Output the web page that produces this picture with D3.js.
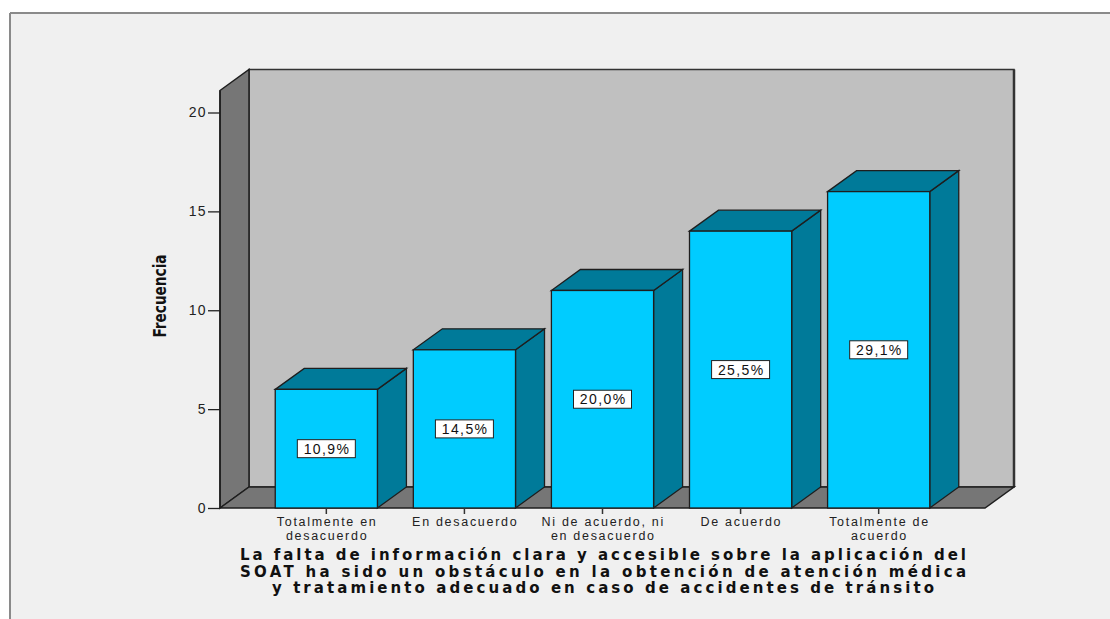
<!DOCTYPE html>
<html>
<head>
<meta charset="utf-8">
<script src="https://cdn.jsdelivr.net/npm/d3@7"></script>
<style>
  html, body { margin: 0; padding: 0; background: #ffffff; }
  svg { display: block; }
</style>
</head>
<body>
<svg id="chart" width="1110" height="619"></svg>
<script>
// Response categories and counts
const categories = [
  "Totalmente en desacuerdo",
  "En desacuerdo",
  "Ni de acuerdo, ni en desacuerdo",
  "De acuerdo",
  "Totalmente de acuerdo"
];
const categoryLines = [
  ["Totalmente en", "desacuerdo"],
  ["En desacuerdo"],
  ["Ni de acuerdo, ni", "en desacuerdo"],
  ["De acuerdo"],
  ["Totalmente de", "acuerdo"]
];
const frequencies = [6, 8, 11, 14, 16];
const yTicks = [0, 5, 10, 15, 20];
const yLabel = "Frecuencia";
const titleLines = [
  "La falta de información clara y accesible sobre la aplicación del",
  "SOAT ha sido un obstáculo en la obtención de atención médica",
  "y tratamiento adecuado en caso de accidentes de tránsito"
];

const svg = d3.select("#chart");
const total = d3.sum(frequencies);
const pct = v => d3.format(".1f")(v / total * 100).replace(".", ",") + "%";
const labelFont = "Liberation Sans, Arial, sans-serif";

// Panel background and frame
svg.append("rect").attr("x", 10).attr("y", 13).attr("width", 1100).attr("height", 606).attr("fill", "#f0f0f0");
svg.append("line").attr("x1", 10).attr("x2", 1110).attr("y1", 13).attr("y2", 13).attr("stroke", "#8a8a8a").attr("stroke-width", 2);
svg.append("line").attr("x1", 10).attr("x2", 10).attr("y1", 13).attr("y2", 619).attr("stroke", "#8a8a8a").attr("stroke-width", 2);

// Scales
const y = d3.scaleLinear().domain([0, 20]).range([508, 112.5]);
const x = d3.scaleBand().domain(categories).range([220, 985]).paddingInner(0.26).paddingOuter(0.4);
const dx = 29, dy = -21;            // depth offset for the 3D effect
const left = 220, right = 985;
const yBase = y(0), yTopWall = y(20) - 22;

const poly = pts => pts.map(p => p.join(",")).join(" ");
const edge = "#1e1e1e";

// Back wall
svg.append("polygon")
  .attr("points", poly([[left + dx, yTopWall + dy], [right + dx, yTopWall + dy], [right + dx, yBase + dy], [left + dx, yBase + dy]]))
  .attr("fill", "#c0c0c0").attr("stroke", "#333").attr("stroke-width", 1.5);
svg.append("line").attr("x1", right + dx).attr("x2", right + dx).attr("y1", yTopWall + dy).attr("y2", yBase + dy)
  .attr("stroke", "#333").attr("stroke-width", 2.5);

// Side wall
svg.append("polygon")
  .attr("points", poly([[left, yTopWall], [left + dx, yTopWall + dy], [left + dx, yBase + dy], [left, yBase]]))
  .attr("fill", "#767676").attr("stroke", edge).attr("stroke-width", 1.5);

// Floor
svg.append("polygon")
  .attr("points", poly([[left, yBase], [left + dx, yBase + dy], [right + dx, yBase + dy], [right, yBase]]))
  .attr("fill", "#767676").attr("stroke", edge).attr("stroke-width", 1.5);

// Bars
const bars = svg.append("g");
categories.forEach((c, i) => {
  const v = frequencies[i];
  const x0 = x(c), x1 = x0 + x.bandwidth(), yt = y(v);
  const g = bars.append("g");
  g.append("polygon")
    .attr("points", poly([[x1, yt], [x1 + dx, yt + dy], [x1 + dx, yBase + dy], [x1, yBase]]))
    .attr("fill", "#007a99").attr("stroke", edge).attr("stroke-width", 1.3);
  g.append("polygon")
    .attr("points", poly([[x0, yt], [x0 + dx, yt + dy], [x1 + dx, yt + dy], [x1, yt]]))
    .attr("fill", "#007a99").attr("stroke", edge).attr("stroke-width", 1.3);
  g.append("rect")
    .attr("x", x0).attr("y", yt).attr("width", x.bandwidth()).attr("height", yBase - yt)
    .attr("fill", "#00ccff").attr("stroke", edge).attr("stroke-width", 1.3);

  // Percentage label in the middle of the front face
  const cx = x0 + x.bandwidth() / 2, cy = y(v / 2);
  g.append("rect")
    .attr("x", cx - 29).attr("y", cy - 9).attr("width", 58).attr("height", 18)
    .attr("fill", "#ffffff").attr("stroke", "#222").attr("stroke-width", 1);
  g.append("text").attr("x", cx + 0.7).attr("y", cy + 5)
    .attr("text-anchor", "middle").attr("font-family", labelFont)
    .attr("font-size", 14).attr("letter-spacing", 1.4).attr("fill", "#111").text(pct(v));
});

// Y axis
const yAxis = svg.append("g").attr("transform", `translate(${left},0)`)
  .call(d3.axisLeft(y).tickValues(yTicks).tickSize(12).tickPadding(1).tickFormat(d3.format("d")));
yAxis.select(".domain").remove();
yAxis.selectAll(".tick line").attr("stroke", "#222").attr("stroke-width", 1.3);
yAxis.selectAll(".tick text").attr("font-family", labelFont).attr("font-size", 14)
  .attr("letter-spacing", 1.4).attr("fill", "#222");
svg.append("line").attr("x1", left).attr("x2", left).attr("y1", yTopWall).attr("y2", yBase).attr("stroke", edge).attr("stroke-width", 1.5);

// X axis ticks and category labels
const xAxis = svg.append("g").attr("transform", `translate(0,${yBase})`)
  .call(d3.axisBottom(x).tickSize(6).tickFormat(""));
xAxis.select(".domain").remove();
xAxis.selectAll(".tick line").attr("stroke", "#333").attr("stroke-width", 1.5);
categories.forEach((c, i) => {
  const cx = x(c) + x.bandwidth() / 2;
  categoryLines[i].forEach((l, j) => {
    svg.append("text").attr("x", cx + 0.8).attr("y", 526 + j * 13.5)
      .attr("text-anchor", "middle").attr("font-family", labelFont)
      .attr("font-size", 12.5).attr("letter-spacing", 1.7).attr("fill", "#222").text(l);
  });
});

// Axis titles
svg.append("text").attr("transform", "translate(166,296) rotate(-90)")
  .attr("text-anchor", "middle").attr("font-family", "Liberation Sans Narrow, DejaVu Sans Condensed, Arial Narrow, sans-serif")
  .attr("font-weight", "bold").attr("font-size", 18).attr("fill", "#111")
  .attr("textLength", 83).attr("lengthAdjust", "spacingAndGlyphs").text(yLabel);

const titleWidths = [726, 726, 662];
titleLines.forEach((l, i) => {
  svg.append("text").attr("x", 603).attr("y", 560 + i * 16.5)
    .attr("text-anchor", "middle").attr("font-family", "DejaVu Sans, Verdana, sans-serif")
    .attr("font-weight", "bold").attr("font-size", 15).attr("fill", "#111")
    .attr("textLength", titleWidths[i]).attr("lengthAdjust", "spacing").text(l);
});
</script>
</body>
</html>
